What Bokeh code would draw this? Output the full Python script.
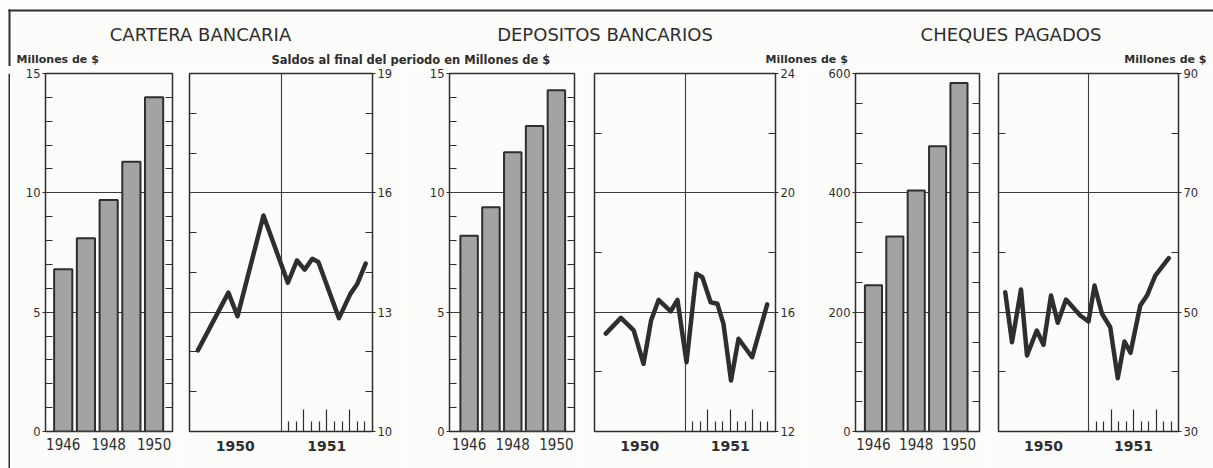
from bokeh.plotting import figure
from bokeh.layouts import row, column
from bokeh.models import (Range1d, FixedTicker, LinearAxis, Label, Grid, ColumnDataSource,
                          BoxAnnotation)
from bokeh.embed import file_html
from bokeh.resources import INLINE

# ---------------- data ----------------
anios = [1946, 1947, 1948, 1949, 1950]
cartera_anual = [6.8, 8.1, 9.7, 11.3, 14.0]
depositos_anual = [8.2, 9.4, 11.7, 12.8, 14.3]
cheques_anual = [245, 327, 404, 478, 584]

# monthly series 1950-1951 (month index: 1 = Jan 1950 ... 24 = Dec 1951)
cartera_mes = [1.1, 5.1, 6.3, 9.7, 12.9, 14.1, 15.1, 16.1, 16.9, 19.6, 21.1, 22.0, 23.1]
cartera_saldo = [12.04, 13.49, 12.90, 15.43, 13.74, 14.30, 14.07, 14.34, 14.26, 12.85, 13.46, 13.71, 14.22]

depositos_mes = [1.5, 3.5, 5.2, 6.5, 7.5, 8.5, 10.1, 11.0, 12.2, 13.5, 14.3, 15.4, 16.3, 17.1, 18.1, 19.1, 20.9, 22.9]
depositos_saldo = [15.28, 15.81, 15.39, 14.27, 15.72, 16.41, 16.03, 16.41, 14.32, 17.29, 17.17, 16.33,
                   16.28, 15.61, 13.71, 15.11, 14.49, 16.26]

cheques_mes = [0.9, 1.8, 3.0, 3.8, 5.1, 6.0, 7.0, 7.9, 9.0, 10.9, 12.0, 12.8, 13.8, 14.9, 15.9, 16.8,
               17.6, 18.9, 19.8, 20.9, 22.7]
cheques_monto = [53.35, 44.97, 53.80, 42.74, 46.93, 44.53, 52.79, 48.22, 52.12, 49.44, 48.43, 54.47,
                 49.73, 47.48, 38.93, 45.08, 43.19, 51.12, 52.79, 56.14, 59.04]

titulos = ["CARTERA BANCARIA", "DEPOSITOS BANCARIOS", "CHEQUES PAGADOS"]
subtitulos = ["Millones de $", "Saldos al final del periodo en Millones de $", "Millones de $", "Millones de $"]
anios_etiqueta = [1946, 1948, 1950]
etiquetas_linea = {6: "1950", 18: "1951"}
meses_1951 = [13, 14, 16, 17, 19, 20, 22, 23]
trimestres_1951 = [15, 18, 21]

# ---------------- style ----------------
INK = "#2e2e2e"
BG = "#fcfcfa"
BAR = "#a3a3a3"
FH = 358
TOP = 7
BOT = 37
HEAD = 66
FONT = "DejaVu Sans"


def base_fig(fw, bl, br, xr, yr):
    p = figure(frame_width=fw, frame_height=FH, min_border_left=bl, min_border_right=br,
               min_border_top=TOP, min_border_bottom=BOT, x_range=xr, y_range=yr,
               x_axis_type=None, y_axis_type=None, toolbar_location=None,
               output_backend="svg", background_fill_color=BG, border_fill_color=BG,
               outline_line_color=INK, outline_line_width=1.5, title=None)
    return p


def y_axes(p, major, minor, label_side):
    labelled = LinearAxis(ticker=FixedTicker(ticks=major, minor_ticks=minor), axis_line_color=None,
                          major_tick_in=0, major_tick_out=3, minor_tick_in=7, minor_tick_out=0,
                          minor_tick_line_color=INK, major_tick_line_color=INK,
                          minor_tick_line_width=1.2, major_label_standoff=2,
                          major_label_text_font_size="11.5px", major_label_text_font=FONT,
                          major_label_text_color=INK)
    plain = LinearAxis(ticker=FixedTicker(ticks=[], minor_ticks=minor), axis_line_color=None,
                       minor_tick_in=7, minor_tick_out=0, minor_tick_line_color=INK,
                       minor_tick_line_width=1.2, major_label_standoff=0)
    other = "right" if label_side == "left" else "left"
    p.add_layout(labelled, label_side)
    p.add_layout(plain, other)


def grid(p, dim, ticks):
    g = Grid(dimension=dim, ticker=FixedTicker(ticks=ticks), grid_line_color="#3c3c3c",
             grid_line_width=1.1)
    p.add_layout(g)


def bar_panel(vals, ymax, major, minor, gridv, bl, fw, br, xr):
    p = base_fig(fw, bl, br, Range1d(*xr), Range1d(0, ymax))
    grid(p, 1, gridv)
    src = ColumnDataSource(dict(x=anios, top=vals))
    p.vbar(x="x", top="top", bottom=0, width=0.8, source=src, fill_color=BAR,
           line_color=INK, line_width=2)
    y_axes(p, major, minor, "left")
    xa = LinearAxis(ticker=FixedTicker(ticks=anios_etiqueta), axis_line_color=None,
                    major_tick_in=0, major_tick_out=0, major_label_standoff=6,
                    major_label_text_font_size="15px",
                    major_label_text_font="DejaVu Sans Condensed",
                    major_label_text_color=INK)
    p.add_layout(xa, "below")
    return p


def line_panel(meses, vals, ymin, ymax, major, minor, gridv, bl, fw, br):
    p = base_fig(fw, bl, br, Range1d(0, 24), Range1d(ymin, ymax))
    grid(p, 1, gridv)
    grid(p, 0, [12])
    src = ColumnDataSource(dict(x=meses, y=vals))
    p.line(x="x", y="y", source=src, line_color=INK, line_width=4.5,
           line_join="round", line_cap="round")
    y_axes(p, major, minor, "right")
    for ticks, ln in ((trimestres_1951, 22), (meses_1951, 10)):
        ta = LinearAxis(ticker=FixedTicker(ticks=[], minor_ticks=ticks), axis_line_color=None,
                        minor_tick_in=ln, minor_tick_out=0, minor_tick_line_color=INK,
                        minor_tick_line_width=1.2, major_label_standoff=0)
        p.add_layout(ta, "below")
    la = LinearAxis(ticker=FixedTicker(ticks=list(etiquetas_linea.keys())),
                    major_label_overrides=etiquetas_linea, axis_line_color=None,
                    major_tick_in=0, major_tick_out=0, major_label_standoff=9,
                    major_label_text_font_size="14px", major_label_text_font=FONT,
                    major_label_text_font_style="bold", major_label_text_color=INK)
    p.add_layout(la, "below")
    return p


# header with titles (coordinates = page pixels)
header = figure(frame_width=1213, frame_height=HEAD, min_border=0,
                x_range=Range1d(0, 1213), y_range=Range1d(HEAD, 0),
                x_axis_type=None, y_axis_type=None, toolbar_location=None,
                output_backend="svg", background_fill_color=BG, border_fill_color=BG,
                outline_line_color=None, title=None)
# outer frame of the sheet: top rule and left rule
header.add_layout(BoxAnnotation(left=8, right=1213, top=9, bottom=11, fill_color=INK,
                                fill_alpha=1, line_color=None))
header.add_layout(BoxAnnotation(left=8, right=10, top=9, bottom=HEAD, fill_color=INK,
                                fill_alpha=1, line_color=None))
for xc, t in zip([200, 604.5, 1010.5], titulos):
    header.add_layout(Label(x=xc, y=34, text=t, text_align="center", text_baseline="middle",
                            text_font=FONT, text_font_size="18px", text_color=INK))
for (xs, al, fs), t in zip([(16, "left", "11px"), (271, "left", "11.5px"), (765, "left", "11px"),
                            (1206, "right", "11px")], subtitulos):
    header.add_layout(Label(x=xs, y=59, text=t, text_align=al, text_baseline="middle",
                            text_font=FONT, text_font_size=fs, text_font_style="bold",
                            text_color=INK))

strip = figure(frame_width=10, frame_height=TOP + FH + BOT, min_border=0,
               x_range=Range1d(0, 10), y_range=Range1d(0, 1),
               x_axis_type=None, y_axis_type=None, toolbar_location=None, output_backend="svg",
               background_fill_color=BG, border_fill_color=BG, outline_line_color=None, title=None)
strip.add_layout(BoxAnnotation(left=8, right=10, fill_color=INK, fill_alpha=1, line_color=None))

p1 = bar_panel(cartera_anual, 15, [0, 5, 10, 15], [1, 2, 3, 4, 6, 7, 8, 9, 11, 12, 13, 14], [5, 10],
               35, 127, 8, (1945.22, 1950.81))
p2 = line_panel(cartera_mes, cartera_saldo, 10, 19, [10, 13, 16, 19], [11, 12, 14, 15, 17, 18],
                [13, 16], 9, 183, 30)
p3 = bar_panel(depositos_anual, 15, [0, 5, 10, 15], [1, 2, 3, 4, 6, 7, 8, 9, 11, 12, 13, 14], [5, 10],
               47, 125, 8, (1945.1, 1950.83))
p4 = line_panel(depositos_mes, depositos_saldo, 12, 24, [12, 16, 20, 24], [14, 18, 22],
                [16, 20], 12, 181, 30)
p5 = bar_panel(cheques_anual, 600, [0, 200, 400, 600], [50, 100, 150, 250, 300, 350, 450, 500, 550],
               [200, 400], 50, 124, 8, (1945.16, 1950.96))
p6 = line_panel(cheques_mes, cheques_monto, 30, 90, [30, 50, 70, 90], [40, 60, 80],
                [50, 70], 11, 180, 35)

layout = column(header, row(strip, p1, p2, p3, p4, p5, p6))

with open("out.html", "w") as f:
    f.write(file_html(layout, INLINE))
